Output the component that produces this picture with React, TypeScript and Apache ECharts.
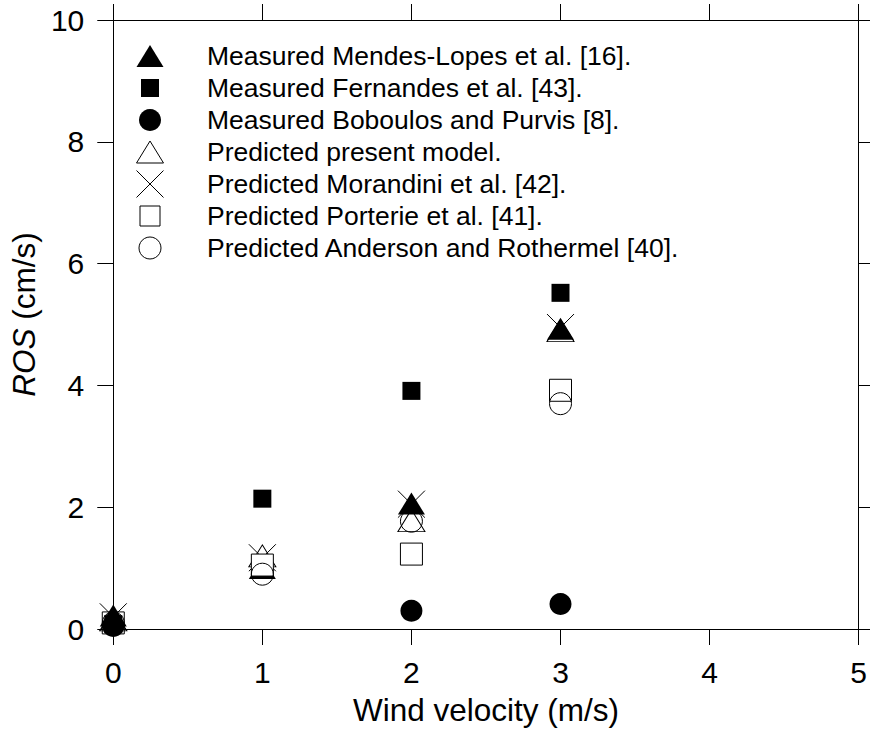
import React, { useEffect, useRef } from "react";
import * as echarts from "echarts";

const FONT = "'Liberation Sans', Arial, sans-serif";

const mendesLopes: [number, number][] = [[0, 0.22], [1, 1.0], [2, 2.06], [3, 4.93]];
const fernandes: [number, number][] = [[0, 0.08], [1, 2.14], [2, 3.91], [3, 5.52]];
const boboulos: [number, number][] = [[0, 0.05], [2, 0.3], [3, 0.41]];
const presentModel: [number, number][] = [[0, 0.15], [1, 1.2], [2, 1.78], [3, 4.9]];
const morandini: [number, number][] = [[0, 0.2], [1, 1.17], [2, 2.05], [3, 4.95]];
const porterie: [number, number][] = [[0, 0.1], [1, 1.05], [2, 1.23], [3, 3.92]];
const anderson: [number, number][] = [[0, 0.1], [1, 0.9], [2, 1.77], [3, 3.7]];

const legendLabels = [
  "Measured Mendes-Lopes et al. [16].",
  "Measured Fernandes et al. [43].",
  "Measured Boboulos and Purvis [8].",
  "Predicted present model.",
  "Predicted Morandini et al. [42].",
  "Predicted Porterie et al. [41].",
  "Predicted Anderson and Rothermel [40].",
];

const XPATH = "path://M0 0L10 10M10 0L0 10";

export default function App() {
  const ref = useRef<HTMLDivElement>(null);
  useEffect(() => {
    document.body.style.margin = "0";
    if (!ref.current) return;
    const chart = echarts.init(ref.current, null, { renderer: "svg" });

    const filled = (color: string) => ({ color, borderWidth: 0, opacity: 1 });
    const open = (fill: string) => ({ color: fill, borderColor: "#000", borderWidth: 1, opacity: 1 });

    const seriesDefs = [
      { name: legendLabels[0], data: mendesLopes, symbol: "triangle", symbolSize: [27, 22], itemStyle: filled("#000") },
      { name: legendLabels[1], data: fernandes, symbol: "rect", symbolSize: 18, itemStyle: filled("#000") },
      { name: legendLabels[2], data: boboulos, symbol: "circle", symbolSize: 22, itemStyle: filled("#000") },
      { name: legendLabels[3], data: presentModel, symbol: "triangle", symbolSize: [27, 22], itemStyle: open("transparent") },
      { name: legendLabels[4], data: morandini, symbol: XPATH, symbolSize: 27, itemStyle: open("transparent") },
      {
        name: legendLabels[5],
        data: porterie.map((p, i) => (i === 0 ? { value: p, itemStyle: { color: "transparent" } } : p)),
        symbol: "rect",
        symbolSize: 22,
        itemStyle: open("#fff"),
      },
      { name: legendLabels[6], data: anderson, symbol: "circle", symbolSize: 22, itemStyle: open("transparent") },
    ];

    const series = seriesDefs.map((s) => ({
      type: "scatter",
      name: s.name,
      data: s.data,
      symbol: s.symbol,
      symbolSize: s.symbolSize,
      symbolKeepAspect: true,
      itemStyle: s.itemStyle,
      clip: false,
      silent: true,
    }));

    // Legend drawn with graphic elements
    const lx = 150;
    const ly0 = 56;
    const dy = 32;
    const legendSymbols: any[] = [
      { type: "polygon", shape: { points: [[lx - 13.5, ly0 + 11], [lx + 13.5, ly0 + 11], [lx, ly0 - 11]] }, style: { fill: "#000" } },
      { type: "rect", shape: { x: lx - 9, y: ly0 + dy - 9, width: 18, height: 18 }, style: { fill: "#000" } },
      { type: "circle", shape: { cx: lx, cy: ly0 + 2 * dy, r: 11 }, style: { fill: "#000" } },
      {
        type: "polygon",
        shape: { points: [[lx - 13.5, ly0 + 3 * dy + 11], [lx + 13.5, ly0 + 3 * dy + 11], [lx, ly0 + 3 * dy - 11]] },
        style: { fill: "none", stroke: "#000", lineWidth: 1 },
      },
      { type: "line", shape: { x1: lx - 13.5, y1: ly0 + 4 * dy - 13.5, x2: lx + 13.5, y2: ly0 + 4 * dy + 13.5 }, style: { stroke: "#000", lineWidth: 1 } },
      { type: "line", shape: { x1: lx + 13.5, y1: ly0 + 4 * dy - 13.5, x2: lx - 13.5, y2: ly0 + 4 * dy + 13.5 }, style: { stroke: "#000", lineWidth: 1 } },
      { type: "rect", shape: { x: lx - 10, y: ly0 + 5 * dy - 10, width: 20, height: 20 }, style: { fill: "none", stroke: "#000", lineWidth: 1 } },
      { type: "circle", shape: { cx: lx, cy: ly0 + 6 * dy, r: 11 }, style: { fill: "none", stroke: "#000", lineWidth: 1 } },
    ];
    const legendTexts = legendLabels.map((t, i) => ({
      type: "text",
      x: 207,
      y: ly0 + i * dy,
      style: { text: t, fontSize: 26.5, fontFamily: FONT, fill: "#000", verticalAlign: "middle", align: "left" },
    }));

    const axisLine = { show: true, onZero: false, lineStyle: { color: "#000", width: 1 } };
    const axisTick = { show: true, inside: false, length: 16, lineStyle: { color: "#000", width: 1 } };

    chart.setOption({
      animation: false,
      backgroundColor: "#fff",
      grid: { left: 109, right: 9, top: 20, bottom: 106, containLabel: false },
      xAxis: [
        {
          type: "value",
          position: "bottom",
          min: 0,
          max: 5,
          interval: 1,
          axisLine,
          axisTick,
          splitLine: { show: false },
          axisLabel: { fontSize: 30, fontFamily: FONT, color: "#000", margin: 28 },
          name: "Wind velocity (m/s)",
          nameLocation: "middle",
          nameGap: 65,
          nameTextStyle: { fontSize: 31.5, fontFamily: FONT, color: "#000" },
        },
        {
          type: "value",
          position: "top",
          min: 0,
          max: 5,
          interval: 1,
          axisLine,
          axisTick,
          splitLine: { show: false },
          axisLabel: { show: false },
        },
      ],
      yAxis: [
        {
          type: "value",
          position: "left",
          min: 0,
          max: 10,
          interval: 2,
          axisLine,
          axisTick,
          splitLine: { show: false },
          axisLabel: { fontSize: 30, fontFamily: FONT, color: "#000", margin: 29 },
          name: "{i|ROS} (cm/s)",
          nameLocation: "middle",
          nameGap: 65,
          nameRotate: 90,
          nameTextStyle: {
            fontSize: 31.5,
            fontFamily: FONT,
            color: "#000",
            padding: [0, 0, 0, 20],
            rich: { i: { fontStyle: "italic", fontSize: 31.5, fontFamily: FONT, color: "#000" } },
          },
        },
        {
          type: "value",
          position: "right",
          min: 0,
          max: 10,
          interval: 2,
          axisLine,
          axisTick,
          splitLine: { show: false },
          axisLabel: { show: false },
        },
      ],
      series,
      graphic: [...legendSymbols, ...legendTexts],
    });
    return () => chart.dispose();
  }, []);
  return <div ref={ref} style={{ width: 870, height: 735 }} />;
}
